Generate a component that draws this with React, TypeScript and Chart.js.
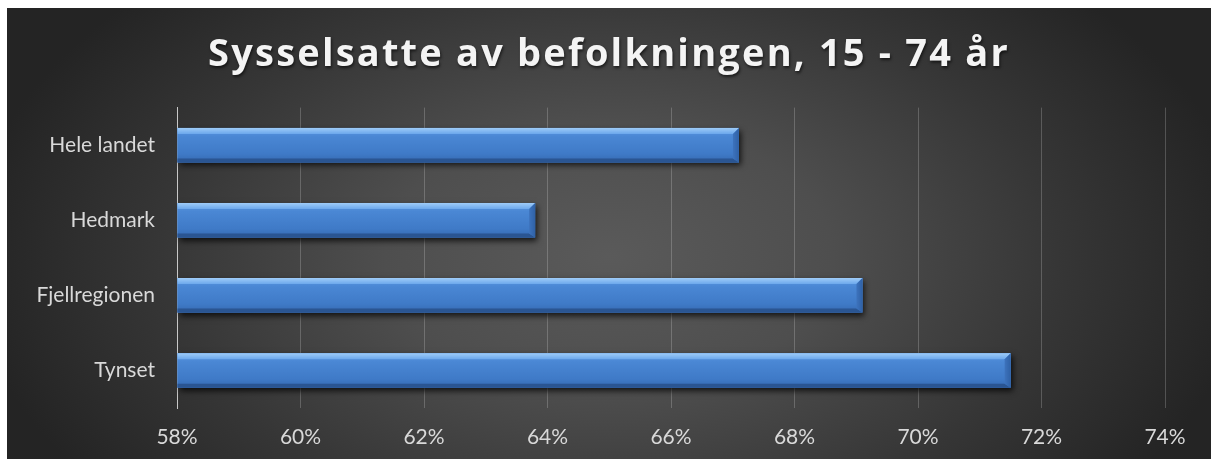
import React, { useEffect, useRef } from "react";
import { Chart, registerables } from "chart.js";

Chart.register(...registerables);

const TITLE = "Sysselsatte av befolkningen, 15 - 74 år";
const categories = ["Hele landet", "Hedmark", "Fjellregionen", "Tynset"];
const values = [67.1, 63.8, 69.1, 71.5];
const xMin = 58;
const xMax = 74;
const xStep = 2;

const W = 1204;
const H = 451;

const bgPlugin = {
  id: "bgPlugin",
  beforeDraw(chart: any) {
    const { ctx, width, height } = chart;
    ctx.save();
    ctx.fillStyle = "#242424";
    ctx.fillRect(0, 0, width, height);
    ctx.translate(width * 0.5, height * 0.55);
    ctx.scale(1, 0.6);
    const g = ctx.createRadialGradient(0, 0, 0, 0, 0, 640);
    g.addColorStop(0, "#5a5a5a");
    g.addColorStop(0.35, "#4e4e4e");
    g.addColorStop(0.7, "#363636");
    g.addColorStop(1, "#242424");
    ctx.fillStyle = g;
    ctx.fillRect(-width, -height * 2, width * 2, height * 4);
    ctx.restore();
  },
};

// centre the title over the full canvas and give it Excel-like letter spacing
const titlePlugin = {
  id: "titlePlugin",
  afterLayout(chart: any) {
    const tb = chart.titleBlock;
    if (!tb) return;
    tb.left = 0;
    tb.right = chart.width;
    tb.width = chart.width;
    if (!tb.__wrapped) {
      const orig = tb.draw.bind(tb);
      tb.draw = (area: any) => {
        const ctx = chart.ctx;
        ctx.save();
        try {
          (ctx as any).letterSpacing = "2.2px";
        } catch (e) {}
        ctx.shadowColor = "rgba(0,0,0,0.6)";
        ctx.shadowBlur = 3;
        ctx.shadowOffsetX = 1;
        ctx.shadowOffsetY = 2;
        orig(area);
        ctx.restore();
      };
      tb.__wrapped = true;
    }
  },
};

const barStylePlugin = {
  id: "barStylePlugin",
  beforeDatasetsDraw(chart: any) {
    const ctx = chart.ctx;
    ctx.save();
    ctx.shadowColor = "rgba(0,0,0,0.75)";
    ctx.shadowBlur = 6;
    ctx.shadowOffsetX = 2;
    ctx.shadowOffsetY = 3;
  },
  afterDatasetsDraw(chart: any) {
    const ctx = chart.ctx;
    ctx.restore();
    const area = chart.chartArea;
    const meta = chart.getDatasetMeta(0);
    meta.data.forEach((el: any) => {
      const p = el.getProps(["x", "y", "base", "height"], true);
      const left = Math.max(area.left, Math.min(p.base, p.x));
      const right = Math.max(p.base, p.x);
      const top = p.y - p.height / 2;
      const bottom = p.y + p.height / 2;
      const h = bottom - top;
      ctx.save();
      const g = ctx.createLinearGradient(0, top, 0, bottom);
      g.addColorStop(0, "#5b98e2");
      g.addColorStop(0.25, "#4a87d4");
      g.addColorStop(0.75, "#3f7ac7");
      g.addColorStop(1, "#3569b0");
      ctx.fillStyle = g;
      ctx.fillRect(left, top, right - left, h);
      const bev = 6;
      const tg = ctx.createLinearGradient(0, top, 0, top + bev);
      tg.addColorStop(0, "#9fccf8");
      tg.addColorStop(1, "#6ca8ec");
      ctx.fillStyle = tg;
      ctx.beginPath();
      ctx.moveTo(left, top);
      ctx.lineTo(right, top);
      ctx.lineTo(right - bev, top + bev);
      ctx.lineTo(left, top + bev);
      ctx.closePath();
      ctx.fill();
      ctx.fillStyle = "#2a5592";
      ctx.beginPath();
      ctx.moveTo(left, bottom - 4);
      ctx.lineTo(right - bev, bottom - 4);
      ctx.lineTo(right, bottom);
      ctx.lineTo(left, bottom);
      ctx.closePath();
      ctx.fill();
      const rg = ctx.createLinearGradient(right - bev, 0, right, 0);
      rg.addColorStop(0, "#3d73bd");
      rg.addColorStop(1, "#2f61a6");
      ctx.fillStyle = rg;
      ctx.beginPath();
      ctx.moveTo(right - bev, top + bev);
      ctx.lineTo(right, top);
      ctx.lineTo(right, bottom);
      ctx.lineTo(right - bev, bottom - 4);
      ctx.closePath();
      ctx.fill();
      ctx.restore();
    });
  },
};

export default function App() {
  const ref = useRef<HTMLCanvasElement | null>(null);
  useEffect(() => {
    if (!ref.current) return;
    const chart = new Chart(ref.current, {
      type: "bar",
      data: {
        labels: categories,
        datasets: [
          {
            data: values,
            base: xMin,
            backgroundColor: "#4a87d4",
            borderWidth: 0,
            categoryPercentage: 1,
            barPercentage: 0.46,
          },
        ],
      },
      options: {
        indexAxis: "y",
        animation: false,
        responsive: false,
        layout: { padding: { top: 0, left: 0, right: 46, bottom: 0 } },
        plugins: {
          legend: { display: false },
          tooltip: { enabled: false },
          title: {
            display: true,
            text: TITLE,
            color: "#f4f4f4",
            font: { family: "Open Sans", size: 38, weight: "bold", lineHeight: 1.2 },
            padding: { top: 24, bottom: 30 },
          },
        },
        scales: {
          x: {
            type: "linear",
            min: xMin,
            max: xMax,
            ticks: {
              stepSize: xStep,
              color: "#d9d9d9",
              font: { family: "Lato", size: 21 },
              padding: 17,
              callback: (v: any) => v + "%",
            },
            grid: { color: "rgba(255,255,255,0.2)", drawTicks: false },
            border: { display: false },
            afterFit: (s: any) => {
              s.height = 51;
            },
          },
          y: {
            ticks: {
              color: "#d9d9d9",
              font: { family: "Lato", size: 21 },
              padding: 22,
            },
            grid: { display: false, drawTicks: false },
            border: { display: true, color: "#c8c8c8", width: 1 },
            afterFit: (s: any) => {
              s.width = 170;
            },
          },
        },
      },
      plugins: [bgPlugin, titlePlugin, barStylePlugin],
    });
    return () => chart.destroy();
  }, []);
  return (
    <div style={{ position: "absolute", left: 7, top: 8, width: W, height: H }}>
      <canvas ref={ref} width={W} height={H} style={{ display: "block", width: W, height: H }} />
    </div>
  );
}
